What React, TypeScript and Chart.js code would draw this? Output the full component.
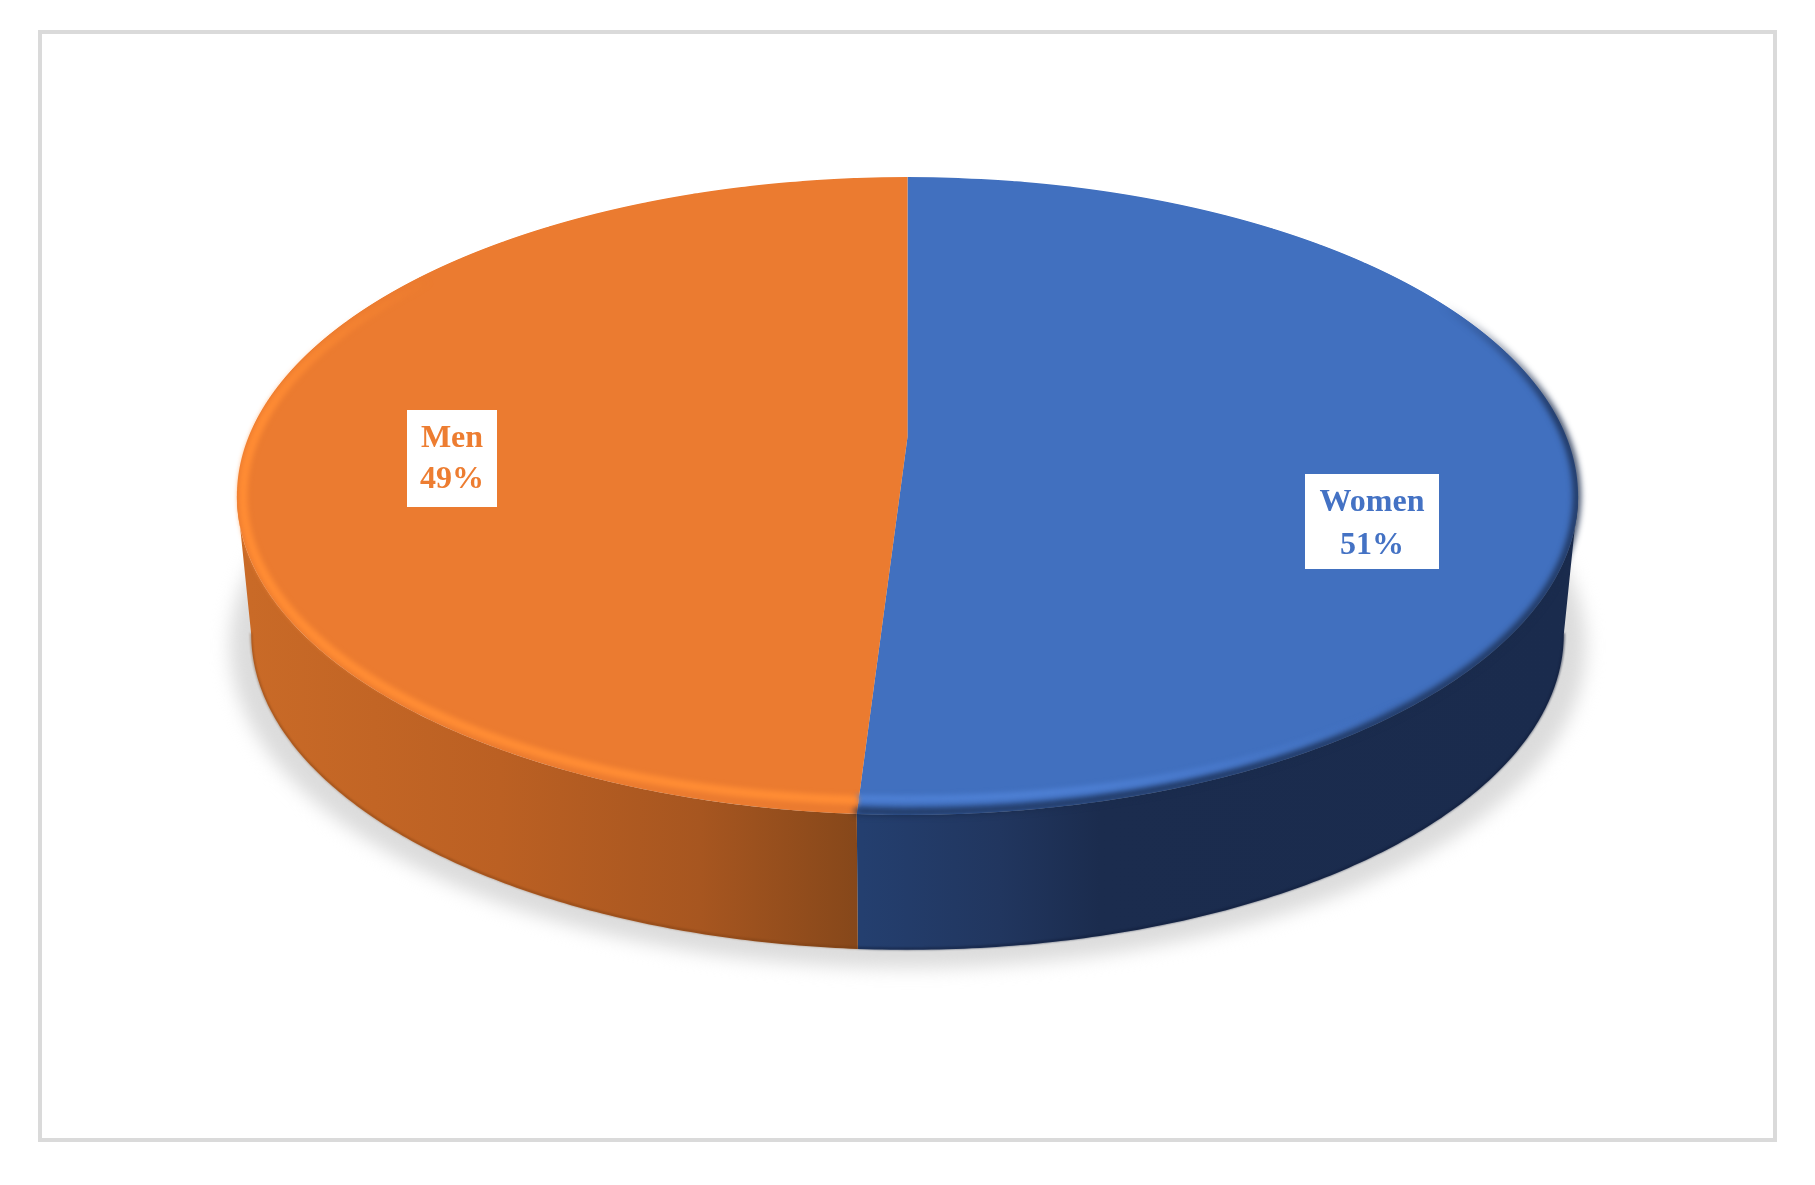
import React, { useEffect, useRef } from "react";
import { Chart } from "chart.js/auto";

const categories = ["Women", "Men"];
const shares = [51, 49];
const faceColors = ["#4170BF", "#EB7B30"];
const labelColors = ["#4472C4", "#ED7D31"];

// perspective of the disc
const K = -0.185;
const TOP = { X: 907.5, Y: 437, a: 308, b: 659 };
const BOTTOM = { X: 907.5, Y: 575.6, a: 305, b: 645 };
const ELLIPSE_CENTER = { x: 907.5, y: 496 };

const wallStops: [number, string][][] = [
  [[862, "#243F6F"], [1000, "#21365F"], [1100, "#1B2C4E"], [1565, "#1A2B4D"]],
  [[250, "#C96A27"], [500, "#BB6023"], [700, "#A75620"], [862, "#85471A"]],
];
const labelBoxes = [
  { x: 1305, y: 474, w: 134, h: 95, line1: 511, line2: 554 },
  { x: 407, y: 410, w: 90, h: 97, line1: 447, line2: 488 },
];

type Plane = { X: number; Y: number; a: number; b: number };
const project = (t: number, p: Plane) => {
  const u = Math.cos(t);
  const v = Math.sin(t);
  const d = 1 + K * v;
  return { x: p.X + (p.b * u) / d, y: p.Y + (p.a * v) / d };
};
const insetPoint = (t: number, ix: number, iy: number) => {
  const q = project(t, TOP);
  const dx = q.x - ELLIPSE_CENTER.x;
  const dy = q.y - ELLIPSE_CENTER.y;
  const l = Math.hypot(dx, dy) || 1;
  return { x: q.x - (dx / l) * ix, y: q.y - (dy / l) * iy };
};

const drawRim = (
  ctx: CanvasRenderingContext2D,
  from: number,
  to: number,
  ix: number,
  iy: number,
  width: number,
  blur: number,
  rgb: string,
  alpha: (t: number) => number,
) => {
  const off = document.createElement("canvas");
  off.width = ctx.canvas.width;
  off.height = ctx.canvas.height;
  const o = off.getContext("2d")!;
  o.lineWidth = width;
  const n = 160;
  for (let i = 0; i < n; i++) {
    const t0 = from + ((to - from) * i) / n;
    const t1 = from + ((to - from) * (i + 1.2)) / n;
    const p0 = insetPoint(t0, ix, iy);
    const p1 = insetPoint(t1, ix, iy);
    o.strokeStyle = `rgba(${rgb},${Math.max(0, alpha(t0))})`;
    o.beginPath();
    o.moveTo(p0.x, p0.y);
    o.lineTo(p1.x, p1.y);
    o.stroke();
  }
  ctx.save();
  ctx.filter = `blur(${blur}px)`;
  ctx.drawImage(off, 0, 0);
  ctx.restore();
};

const disc3d = {
  id: "disc3d",
  beforeDraw(chart: any) {
    const ctx: CanvasRenderingContext2D = chart.ctx;
    ctx.save();
    ctx.strokeStyle = "#DADADA";
    ctx.lineWidth = 4;
    ctx.strokeRect(40, 32, 1735, 1108);
    ctx.filter = "blur(9px)";
    ctx.fillStyle = "#DCDCDC";
    ctx.beginPath();
    ctx.ellipse(908, 646, 678, 322, 0, 0, Math.PI * 2);
    ctx.fill();
    ctx.restore();
  },
  beforeDatasetsDraw(chart: any) {
    const ctx: CanvasRenderingContext2D = chart.ctx;
    const arcs = chart.getDatasetMeta(0).data;
    const lo = 0.186;
    const hi = Math.PI - 0.186;

    // side wall
    arcs.forEach((el: any, i: number) => {
      const t0 = Math.max(el.startAngle, lo);
      const t1 = Math.min(el.endAngle, hi);
      if (t1 <= t0) return;
      const grad = ctx.createLinearGradient(wallStops[i][0][0], 0, wallStops[i][wallStops[i].length - 1][0], 0);
      const x0 = wallStops[i][0][0];
      const span = wallStops[i][wallStops[i].length - 1][0] - x0;
      wallStops[i].forEach(([x, c]) => grad.addColorStop((x - x0) / span, c));
      const n = 140;
      ctx.save();
      ctx.fillStyle = grad;
      ctx.beginPath();
      for (let s = 0; s <= n; s++) {
        const p = project(t0 + ((t1 - t0) * s) / n, TOP);
        s === 0 ? ctx.moveTo(p.x, p.y) : ctx.lineTo(p.x, p.y);
      }
      for (let s = n; s >= 0; s--) {
        const p = project(t0 + ((t1 - t0) * s) / n, BOTTOM);
        ctx.lineTo(p.x, p.y);
      }
      ctx.closePath();
      ctx.fill();
      ctx.filter = "blur(0.8px)";
      ctx.strokeStyle = i === 0 ? "rgba(16,28,56,0.8)" : "rgba(110,55,15,0.55)";
      ctx.lineWidth = 1.6;
      ctx.beginPath();
      for (let s = 0; s <= n; s++) {
        const p = project(t0 + ((t1 - t0) * s) / n, BOTTOM);
        s === 0 ? ctx.moveTo(p.x, p.y - 1) : ctx.lineTo(p.x, p.y - 1);
      }
      ctx.stroke();
      ctx.restore();
    });

    // top face: the library's arcs, redrawn row by row through the perspective
    const { x: cx, y: cy, outerRadius: R } = arcs[0];
    for (let y = 170; y < 830; y++) {
      const Ys = y + 0.5 - TOP.Y;
      const v = Ys / (TOP.a - K * Ys);
      if (v < -1.02 || v > 1.02) continue;
      const d = 1 + K * v;
      const sx = TOP.b / (R * d);
      const sy = TOP.a / (d * d) / R;
      ctx.save();
      ctx.beginPath();
      ctx.rect(0, y, 1815, 1);
      ctx.clip();
      ctx.setTransform(sx, 0, 0, sy, TOP.X - sx * cx, y + 0.5 - sy * (cy + R * v));
      arcs.forEach((el: any) => el.draw(ctx));
      ctx.restore();
    }

    // bevel
    const split = arcs[1].startAngle;
    drawRim(ctx, -0.5, split, 1, 3, 7, 3, "26,43,77", (t) => Math.min(0.9, (t + 0.5) * 2.2));
    drawRim(ctx, 0.85, split, 6, 16, 7, 2.5, "80,130,215", (t) => Math.min(0.85, (t - 0.85) * 1.6));
    drawRim(ctx, split, Math.PI + 0.62, 6, 14, 9, 2.5, "255,140,52", (t) =>
      t < Math.PI + 0.05 ? 1 : (Math.PI + 0.62 - t) / 0.57,
    );
    return false;
  },
  afterDraw(chart: any) {
    const ctx: CanvasRenderingContext2D = chart.ctx;
    ctx.save();
    ctx.textAlign = "center";
    ctx.textBaseline = "alphabetic";
    ctx.font = 'bold 32px "Liberation Serif"';
    categories.forEach((name, i) => {
      const b = labelBoxes[i];
      ctx.fillStyle = "#FFFFFF";
      ctx.fillRect(b.x, b.y, b.w, b.h);
      ctx.fillStyle = labelColors[i];
      ctx.fillText(name, b.x + b.w / 2, b.line1);
      ctx.fillText(`${shares[i]}%`, b.x + b.w / 2, b.line2);
    });
    ctx.restore();
  },
};

export default function App() {
  const ref = useRef<HTMLCanvasElement>(null);
  useEffect(() => {
    document.body.style.margin = "0";
    document.body.style.background = "#FFFFFF";
    const chart = new Chart(ref.current!, {
      type: "pie",
      data: {
        labels: categories,
        datasets: [{ data: shares, backgroundColor: faceColors, borderWidth: 0 }],
      },
      options: {
        responsive: false,
        devicePixelRatio: 1,
        animation: false,
        layout: { padding: 0 },
        plugins: { legend: { display: false }, tooltip: { enabled: false } },
      },
      plugins: [disc3d],
    } as any);
    return () => chart.destroy();
  }, []);
  return <canvas ref={ref} width={1815} height={1185} style={{ display: "block" }} />;
}
